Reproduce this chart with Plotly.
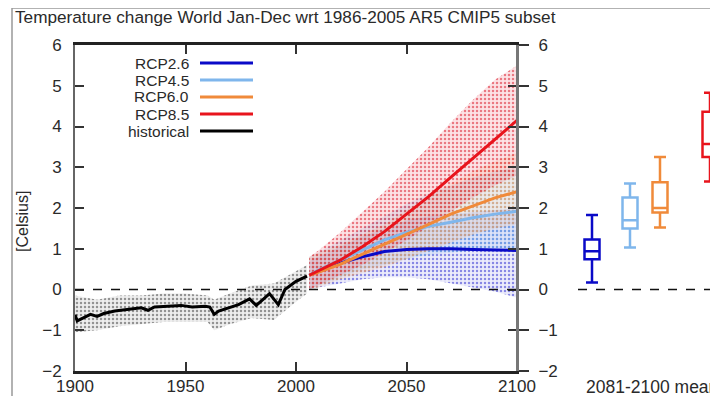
import plotly.graph_objects as go

# ---------------- data ----------------
hist_years = [1900, 1901, 1904, 1907, 1910, 1913, 1918, 1923, 1930, 1933, 1936, 1942, 1948, 1953,
              1959, 1961, 1963, 1965, 1970, 1974, 1979, 1982, 1985, 1988, 1992, 1995, 2000, 2005]
hist_mean = [-0.62, -0.77, -0.69, -0.61, -0.66, -0.59, -0.53, -0.49, -0.45, -0.51, -0.43, -0.41, -0.39, -0.43,
             -0.41, -0.43, -0.61, -0.53, -0.45, -0.37, -0.23, -0.39, -0.25, -0.10, -0.37, 0.0, 0.20, 0.33]

hist_band_years = [1900, 1910, 1920, 1930, 1940, 1950, 1960, 1963, 1970, 1980, 1990, 2000, 2005]
hist_lower = [-1.05, -1.0, -0.9, -0.85, -0.8, -0.8, -0.8, -1.0, -0.85, -0.7, -0.75, -0.3, -0.1]
hist_upper = [-0.15, -0.25, -0.15, -0.15, -0.1, -0.1, -0.15, -0.25, -0.1, 0.1, 0.15, 0.45, 0.6]

proj_years = [2006, 2010, 2020, 2030, 2040, 2050, 2060, 2070, 2080, 2090, 2100]

rcp26_mean = [0.35, 0.45, 0.65, 0.80, 0.93, 0.98, 1.00, 1.00, 0.98, 0.97, 0.96]
rcp26_lower = [0.0, 0.05, 0.15, 0.25, 0.30, 0.30, 0.25, 0.15, 0.05, -0.05, -0.2]
rcp26_upper = [0.7, 0.8, 1.05, 1.3, 1.5, 1.7, 1.8, 1.85, 1.9, 1.95, 2.0]

rcp45_mean = [0.35, 0.47, 0.72, 0.97, 1.22, 1.40, 1.55, 1.65, 1.76, 1.85, 1.92]
rcp45_lower = [0.0, 0.1, 0.3, 0.5, 0.6, 0.75, 0.85, 0.9, 0.95, 1.0, 1.0]
rcp45_upper = [0.8, 0.9, 1.2, 1.5, 1.8, 2.1, 2.35, 2.55, 2.75, 2.9, 3.0]

rcp60_mean = [0.35, 0.42, 0.62, 0.86, 1.10, 1.35, 1.60, 1.85, 2.05, 2.25, 2.40]
rcp60_lower = [0.0, 0.05, 0.25, 0.4, 0.55, 0.75, 0.95, 1.15, 1.35, 1.5, 1.6]
rcp60_upper = [0.8, 0.9, 1.1, 1.35, 1.6, 1.95, 2.3, 2.6, 2.9, 3.15, 3.35]

rcp85_mean = [0.35, 0.45, 0.72, 1.05, 1.42, 1.85, 2.28, 2.75, 3.22, 3.70, 4.15]
rcp85_lower = [0.0, 0.1, 0.35, 0.6, 0.9, 1.2, 1.55, 1.9, 2.25, 2.55, 2.8]
rcp85_upper = [0.8, 0.95, 1.4, 1.9, 2.4, 2.95, 3.5, 4.1, 4.65, 5.15, 5.5]

# 2081-2100 mean box statistics (x position = forcing)
box_names = ["RCP2.6", "RCP4.5", "RCP6.0", "RCP8.5"]
box_pos = [2.6, 4.5, 6.0, 8.5]
box_low = [0.17, 1.03, 1.52, 2.65]
box_q1 = [0.74, 1.50, 1.89, 3.25]
box_med = [0.94, 1.70, 2.00, 3.57]
box_q3 = [1.23, 2.26, 2.63, 4.36]
box_high = [1.83, 2.60, 3.25, 4.83]

legend_labels = ["RCP2.6", "RCP4.5", "RCP6.0", "RCP8.5", "historical"]
x_ticks = [1900, 1950, 2000, 2050, 2100]
y_ticks = [-2, -1, 0, 1, 2, 3, 4, 5, 6]

# ---------------- styling ----------------
C26 = "#0a0ac8"
C45 = "#7fb6ec"
C60 = "#f08a3a"
C85 = "#e8141c"
CH = "#000000"
FONT = "Liberation Sans, Arial, sans-serif"
TXT = "#2a2a2a"

OFF = 8                      # page body margin of the browser
W, H = 718 - OFF, 396 - OFF  # figure size
ML = 75 - OFF
MT = 45 - OFF
MB = H - (371 - OFF)
MR = 0
PW, PH = W - ML - MR, H - MT - MB


def px_x(p):   # screen pixel -> paper x
    return (p - OFF - ML) / PW


def px_y(p):   # screen pixel -> paper y
    return (H - MB - (p - OFF)) / PH


fig = go.Figure()


def band(xs, lo, hi, dotcol, tint):
    fig.add_trace(go.Scatter(x=xs, y=lo, mode="lines", line=dict(width=0, color=tint),
                             hoverinfo="skip", showlegend=False))
    fig.add_trace(go.Scatter(x=xs, y=hi, mode="lines", line=dict(width=0, color=tint),
                             fill="tonexty", fillcolor=tint,
                             fillpattern=dict(shape=".", fgcolor=dotcol, fgopacity=0.6,
                                              size=4, solidity=0.3),
                             hoverinfo="skip", showlegend=False))


band(hist_band_years, hist_lower, hist_upper, "#555555", "rgba(120,120,120,0.12)")
band(proj_years, rcp26_lower, rcp26_upper, "#4444d4", "rgba(70,70,215,0.10)")
band(proj_years, rcp45_lower, rcp45_upper, "#6aa8e6", "rgba(110,170,230,0.12)")
band(proj_years, rcp60_lower, rcp60_upper, "#f0a060", "rgba(240,150,80,0.10)")
band(proj_years, rcp85_lower, rcp85_upper, "#e0303f", "rgba(235,60,80,0.14)")

for ys, col in [(rcp26_mean, C26), (rcp45_mean, C45), (rcp60_mean, C60), (rcp85_mean, C85)]:
    fig.add_trace(go.Scatter(x=proj_years, y=ys, mode="lines", line=dict(color=col, width=3),
                             showlegend=False))
fig.add_trace(go.Scatter(x=hist_years, y=hist_mean, mode="lines", line=dict(color=CH, width=3),
                         showlegend=False))

# box panel
for i, col in enumerate([C26, C45, C60, C85]):
    fig.add_trace(go.Box(
        x=[box_pos[i]], q1=[box_q1[i]], median=[box_med[i]], q3=[box_q3[i]],
        lowerfence=[box_low[i]], upperfence=[box_high[i]],
        name=box_names[i], width=0.75, whiskerwidth=0.8,
        line=dict(color=col, width=2.5), fillcolor="rgba(255,255,255,0)",
        boxpoints=False, xaxis="x2", yaxis="y2", showlegend=False))

axis_font = dict(family=FONT, size=17, color=TXT)
main_dom = [0, px_x(517)]

fig.update_layout(
    width=W, height=H,
    margin=dict(l=ML, r=MR, t=MT, b=MB, autoexpand=False),
    paper_bgcolor="white", plot_bgcolor="white",
    font=dict(family=FONT, size=17, color=TXT),
    showlegend=False,
    xaxis=dict(domain=main_dom, range=[1900, 2100], tickvals=x_ticks, ticks="inside",
               ticklen=9, tickwidth=1.5, tickcolor="#333", showline=True, linecolor="#222",
               linewidth=2.5, mirror="ticks", showgrid=False, zeroline=False, tickfont=axis_font,
               ticklabelstandoff=-2),
    yaxis=dict(range=[-2, 6], tickvals=y_ticks, ticks="inside", ticklen=9, tickwidth=1.5,
               tickcolor="#333", showline=True, linecolor="#666", linewidth=2, mirror="ticks",
               showgrid=False, zeroline=False, tickfont=axis_font, ticklabelstandoff=8),
    xaxis2=dict(domain=[px_x(560), 1.0], range=[1, 8.9], anchor="y2", visible=False),
    yaxis2=dict(range=[-2, 6], tickvals=y_ticks, anchor="free", position=main_dom[1],
                side="right", ticks="outside", ticklen=10, tickwidth=1.5, tickcolor="#333",
                showline=True, linecolor="#777", linewidth=3, showgrid=False, zeroline=False,
                tickfont=axis_font, ticklabelstandoff=6),
)

# zero reference lines
fig.add_shape(type="line", xref="x", yref="y", x0=1900, x1=2100, y0=0, y1=0,
              line=dict(color="#111", width=1.5, dash="dash"))
fig.add_shape(type="line", xref="x2", yref="y2", x0=1.9, x1=8.9, y0=0, y1=0,
              line=dict(color="#111", width=1.5, dash="dash"))

# outer frame
fig.add_shape(type="line", xref="paper", yref="paper", x0=px_x(12), x1=px_x(12),
              y0=px_y(400), y1=px_y(8), line=dict(color="#999", width=1.5))
fig.add_shape(type="line", xref="paper", yref="paper", x0=px_x(12), x1=px_x(730),
              y0=px_y(8), y1=px_y(8), line=dict(color="#999", width=1.5))

# title
fig.add_annotation(text="Temperature change World Jan-Dec wrt 1986-2005 AR5 CMIP5 subset",
                   xref="paper", yref="paper", x=px_x(13), y=px_y(17), xanchor="left",
                   yanchor="middle", showarrow=False, font=dict(family=FONT, size=17.2, color=TXT))
# y label
fig.add_annotation(text="[Celsius]", xref="paper", yref="paper", x=px_x(22), y=px_y(222),
                   textangle=-90, xanchor="center", yanchor="middle", showarrow=False,
                   font=dict(family=FONT, size=16, color=TXT))
# box panel label
fig.add_annotation(text="2081-2100 mean", xref="paper", yref="paper", x=px_x(584), y=px_y(387),
                   xanchor="left", yanchor="middle", showarrow=False,
                   font=dict(family=FONT, size=17.5, color=TXT))

# legend (text left, line sample right)
leg_rows = [63, 80, 97, 114, 131]
for lab, col, py in zip(legend_labels, [C26, C45, C60, C85, CH], leg_rows):
    fig.add_annotation(text=lab, xref="paper", yref="paper", x=px_x(191), y=px_y(py),
                       xanchor="right", yanchor="middle", showarrow=False,
                       font=dict(family=FONT, size=15.5, color=TXT))
    fig.add_shape(type="line", xref="paper", yref="paper", x0=px_x(200), x1=px_x(253),
                  y0=px_y(py), y1=px_y(py), line=dict(color=col, width=3))

fig.write_html("out.html")
